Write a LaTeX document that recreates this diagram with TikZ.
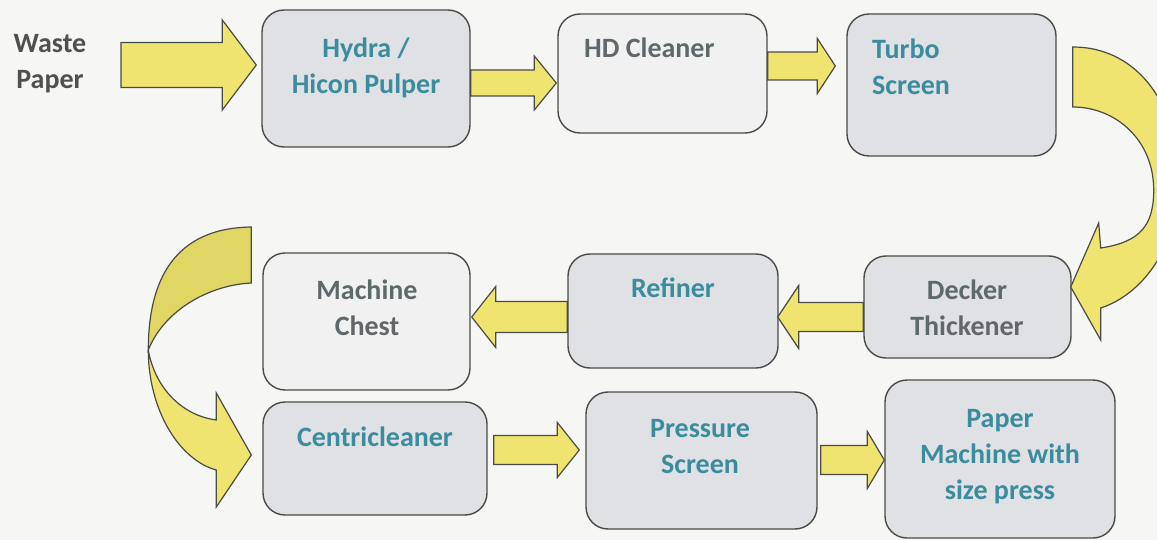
\documentclass[tikz,border=0pt]{standalone}
\usepackage{fontspec}
\setmainfont{Carlito}
\usetikzlibrary{calc}
\definecolor{bgc}{RGB}{246,246,244}
\definecolor{boxg}{RGB}{223,225,228}
\definecolor{boxl}{RGB}{241,241,241}
\definecolor{tealtx}{RGB}{58,140,158}
\definecolor{graytx}{RGB}{95,105,108}
\definecolor{wastetx}{RGB}{80,80,80}
\definecolor{yel}{RGB}{240,228,112}
\definecolor{yeld}{RGB}{224,214,100}
\definecolor{edgec}{RGB}{75,75,70}
\newcommand{\blockarr}[5]{\path[yarrow] let \p1=(#1), \p2=(#2) in
  ({\x1},{\y2+#3pt}) -- ({\x2-(#5pt)},{\y2+#3pt}) -- ({\x2-(#5pt)},{\y2+#4pt}) -- (\x2,\y2)
  -- ({\x2-(#5pt)},{\y2-#4pt}) -- ({\x2-(#5pt)},{\y2-#3pt}) -- ({\x1},{\y2-#3pt}) -- cycle;}
\begin{document}
\begin{tikzpicture}[x=1pt,y=-1pt,
  box/.style={draw=edgec, line width=1.4pt, rounded corners=22pt, inner sep=0pt},
  txt/.style={font=\fontsize{28}{36}\selectfont\bfseries, inner sep=0pt, align=center, anchor=north},
  ltxt/.style={txt, align=left, anchor=north west},
  yarrow/.style={fill=yel, draw=edgec, line width=1.2pt, line join=miter},
  yback/.style={fill=yeld, draw=edgec, line width=1.2pt, line join=miter}]
\useasboundingbox (0,0) rectangle (1157,540);
\fill[bgc] (0,0) rectangle (1157,540);
\clip (0,0) rectangle (1157,540);

% boxes
\node[box, fill=boxg, minimum width=208pt, minimum height=137pt] (hydra) at (366,78.5) {};
\node[box, fill=boxl, minimum width=209pt, minimum height=119pt] (hd) at (662.5,73.5) {};
\node[box, fill=boxg, minimum width=209pt, minimum height=142pt] (turbo) at (951.5,85) {};
\node[box, fill=boxg, minimum width=207pt, minimum height=102pt] (decker) at (967.5,307) {};
\node[box, fill=boxg, minimum width=210pt, minimum height=114pt] (refiner) at (673,311) {};
\node[box, fill=boxl, minimum width=207pt, minimum height=137pt] (chest) at (366.5,321.5) {};
\node[box, fill=boxg, minimum width=224pt, minimum height=113pt] (centri) at (375,458.5) {};
\node[box, fill=boxg, minimum width=231pt, minimum height=137pt] (pressure) at (701.5,460.5) {};
\node[box, fill=boxg, minimum width=230pt, minimum height=158pt] (paper) at (1000,459) {};

% texts
\node[txt, text=wastetx] (waste) at (50,26.8) {\strut Waste\\Paper};
\node[txt, text=tealtx] (hydraT) at (366,31.8) {\strut Hydra /\\Hicon Pulper};
\node[ltxt, text=graytx] (hdT) at (584,31.8) {\strut HD Cleaner};
\node[ltxt, text=tealtx] (turboT) at (872,32.8) {\strut Turbo\\Screen};
\node[txt, text=graytx] (deckerT) at (967,273.8) {\strut Decker\\Thickener};
\node[txt, text=tealtx] (refinerT) at (673,271.8) {\strut Refiner};
\node[txt, text=graytx] (chestT) at (367,273.8) {\strut Machine\\Chest};
\node[txt, text=tealtx] (centriT) at (375,420.8) {\strut Centricleaner};
\node[txt, text=tealtx] (pressureT) at (700,411.8) {\strut Pressure\\Screen};
\node[txt, text=tealtx] (paperT) at (1000,401.8) {\strut Paper\\Machine with\\size press};

% straight block arrows
\coordinate (a1s) at (121,65);
\coordinate (a1e) at ($(hydra.west |- 0,65)+(-5,0)$);
\blockarr{a1s}{a1e}{22.5}{45}{34}
\coordinate (a2s) at (hydra.east |- 0,83);
\coordinate (a2e) at ($(hd.west |- 0,83)+(-1,0)$);
\blockarr{a2s}{a2e}{13}{27}{22}
\coordinate (a3s) at (hd.east |- 0,66);
\coordinate (a3e) at ($(turbo.west |- 0,66)+(-11,0)$);
\blockarr{a3s}{a3e}{14}{27.5}{18}
\coordinate (a4s) at (decker.west |- 0,317);
\coordinate (a4e) at ($(refiner.east |- 0,317)+(-1,0)$);
\blockarr{a4s}{a4e}{14.5}{31.5}{-21}
\coordinate (a5s) at (refiner.west |- 0,317);
\coordinate (a5e) at ($(chest.east |- 0,317)+(1,0)$);
\blockarr{a5s}{a5e}{15.5}{30.5}{-24}
\coordinate (a6s) at ($(centri.east |- 0,450)+(6,0)$);
\coordinate (a6e) at ($(pressure.west |- 0,450)+(-6,0)$);
\blockarr{a6s}{a6e}{14.5}{27.5}{22}
\coordinate (a7s) at ($(pressure.east |- 0,460)+(3,0)$);
\coordinate (a7e) at (paper.west |- 0,460);
\blockarr{a7s}{a7e}{14.5}{28.5}{17}

% right curved arrow: Turbo Screen -> Decker Thickener
\coordinate (rs) at ($(turbo.east |- 0,77)+(16,0)$);
\coordinate (re) at ($(decker.east |- 0,287)+(-1,0)$);
\path[yarrow] ($(rs)+(0,-30)$) .. controls ($(rs)+(68,-30)$) and ($(rs)+(108,33)$) .. ($(rs)+(106,108)$)
  .. controls ($(re)+(106,-37)$) and ($(re)+(70,8)$) .. ($(re)+(30,21)$)
  -- ($(re)+(30,53)$) -- (re) -- ($(re)+(28,-64)$) -- ($(re)+(30,-39)$)
  .. controls ($(re)+(70,-45)$) and ($(re)+(83,-62)$) .. ($(rs)+(81,113)$)
  .. controls ($(rs)+(81,63)$) and ($(rs)+(43,30)$) .. ($(rs)+(0,30)$) -- cycle;

% left curved arrow: Machine Chest -> Centricleaner
\coordinate (ls) at ($(chest.west |- 0,255)+(-11,0)$);
\coordinate (le) at ($(centri.west |- 0,455)+(-11,0)$);
\path[yback] ($(ls)+(0,-28)$) .. controls ($(ls)+(-77,-27)$) and ($(ls)+(-103,25)$) .. ($(ls)+(-103,95)$)
  .. controls ($(ls)+(-87,55)$) and ($(ls)+(-42,30)$) .. ($(ls)+(0,28)$) -- cycle;
\path[yarrow] ($(ls)+(-103,95)$) .. controls ($(le)+(-103,-45)$) and ($(le)+(-72,5)$) .. ($(le)+(-35,15)$)
  -- ($(le)+(-35,52)$) -- (le) -- ($(le)+(-35,-62)$) -- ($(le)+(-35,-35)$)
  .. controls ($(le)+(-72,-40)$) and ($(le)+(-97,-70)$) .. ($(ls)+(-103,95)$) -- cycle;
\end{tikzpicture}
\end{document}
